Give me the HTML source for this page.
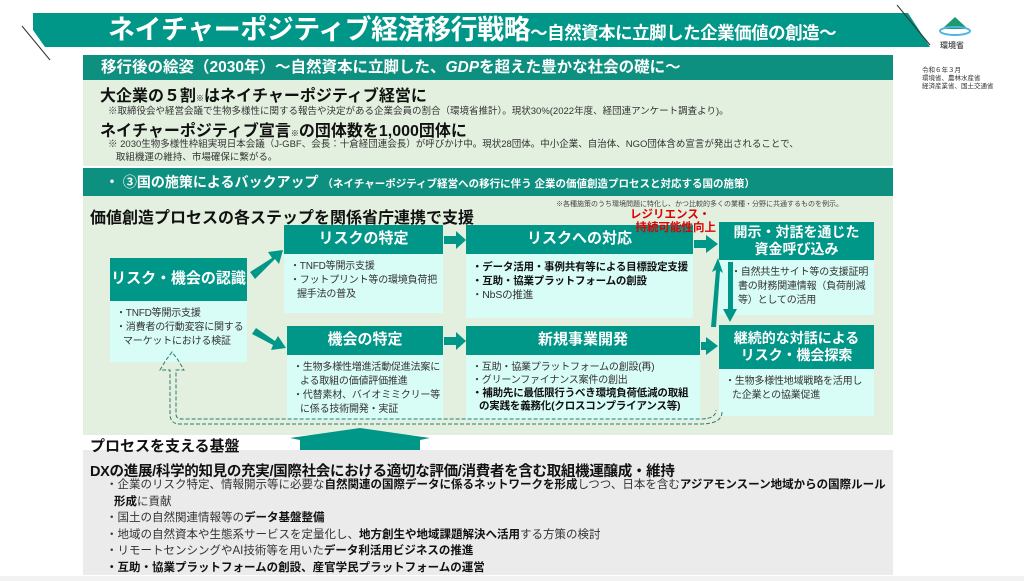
<!DOCTYPE html>
<html><head><meta charset="utf-8"><style>
*{margin:0;padding:0;box-sizing:border-box}
body{width:1024px;height:581px;position:relative;background:#fff;font-family:"Liberation Sans","Noto Sans CJK JP",sans-serif;overflow:hidden;color:#222}
.a{position:absolute}
.hd{position:absolute;background:#009688;color:#fff;font-weight:bold;text-align:center;display:flex;align-items:center;justify-content:center;line-height:1.25}
.bd{position:absolute;background:#d8fcf6;font-size:10px;line-height:14px;padding:6px 3px 0 6px;color:#333;letter-spacing:-0.2px}
.bd p{padding-left:7px;text-indent:-7px}
b{font-weight:bold;color:#111}
</style></head><body>
<svg class="a" style="left:0;top:0" width="1024" height="581">
<polygon points="33,13 908,13 930,47 45,47 33,30" fill="#009688"/>
<line x1="22" y1="26" x2="50" y2="60" stroke="#333" stroke-width="1"/>
<line x1="897" y1="5" x2="930" y2="45" stroke="#333" stroke-width="1"/>
<polygon points="955,17 968,29 942,29" fill="#1a9a6e"/>
<ellipse cx="955" cy="31" rx="15" ry="4" fill="none" stroke="#4fb3e0" stroke-width="2"/>
</svg>
<div class="a" style="left:108px;top:12px;height:36px;line-height:36px;color:#fff;font-weight:bold;font-size:27px;white-space:nowrap;letter-spacing:-0.5px">ネイチャーポジティブ経済移行戦略<span style="font-size:17.5px">～自然資本に立脚した企業価値の創造～</span></div>
<div class="a" style="left:940px;top:40px;font-size:8px;font-weight:bold;color:#555">環境省</div>
<div class="a" style="left:922px;top:67px;font-size:6.5px;line-height:8px;color:#333">令和６年３月<br>環境省、農林水産省<br>経済産業省、国土交通省</div>

<div class="a" style="left:83px;top:55px;width:810px;height:25px;background:#0e9080;color:#fff;font-weight:bold;font-size:15.5px;line-height:25px;padding-left:18px;white-space:nowrap">移行後の絵姿（2030年）～自然資本に立脚した、<i>GDP</i>を超えた豊かな社会の礎に～</div>
<div class="a" style="left:83px;top:80px;width:810px;height:86px;background:#e3f0df"></div>
<div class="a" style="left:100px;top:82px;font-size:16px;font-weight:bold;color:#111;white-space:nowrap">大企業の５割<span style="font-size:8px">※</span>はネイチャーポジティブ経営に</div>
<div class="a" style="left:108px;top:103px;font-size:9.5px;color:#333;white-space:nowrap">※取締役会や経営会議で生物多様性に関する報告や決定がある企業会員の割合（環境省推計）。現状30%(2022年度、経団連アンケート調査より)。</div>
<div class="a" style="left:100px;top:117px;font-size:16px;font-weight:bold;color:#111;white-space:nowrap">ネイチャーポジティブ宣言<span style="font-size:8px">※</span>の団体数を1,000団体に</div>
<div class="a" style="left:108px;top:138px;font-size:9.5px;line-height:13px;color:#333;white-space:nowrap">※ 2030生物多様性枠組実現日本会議（J-GBF、会長：十倉経団連会長）が呼びかけ中。現状28団体。中小企業、自治体、NGO団体含め宣言が発出されることで、<br>&nbsp;&nbsp;&nbsp;取組機運の維持、市場確保に繋がる。</div>

<div class="a" style="left:83px;top:168px;width:810px;height:28px;background:#0e9080;color:#fff;font-weight:bold;font-size:14px;line-height:28px;padding-left:22px;white-space:nowrap">・ ③国の施策によるバックアップ <span style="font-size:10.5px">（ネイチャーポジティブ経営への移行に伴う 企業の価値創造プロセスと対応する国の施策）</span></div>
<div class="a" style="left:83px;top:196px;width:810px;height:239px;background:#e3f0df"></div>
<div class="a" style="left:90px;top:204px;font-size:16px;font-weight:bold;color:#111;white-space:nowrap">価値創造プロセスの各ステップを関係省庁連携で支援</div>
<div class="a" style="left:556px;top:199px;font-size:7px;color:#444;white-space:nowrap">※各種施策のうち環境問題に特化し、かつ比較的多くの業種・分野に共通するものを例示。</div>

<div class="hd" style="left:110px;top:258px;width:137px;height:43px;font-size:15px">リスク・機会の認識</div>
<div class="bd" style="left:110px;top:301px;width:137px;height:61px"><p>・TNFD等開示支援</p><p>・消費者の行動変容に関するマーケットにおける検証</p></div>

<div class="hd" style="left:284px;top:225px;width:159px;height:29px;font-size:15px">リスクの特定</div>
<div class="bd" style="left:284px;top:254px;width:159px;height:59px"><p>・TNFD等開示支援</p><p>・フットプリント等の環境負荷把握手法の普及</p></div>

<div class="hd" style="left:287px;top:326px;width:156px;height:29px;font-size:15px">機会の特定</div>
<div class="bd" style="left:287px;top:355px;width:156px;height:65px"><p>・生物多様性増進活動促進法案による取組の価値評価推進</p><p>・代替素材、バイオミミクリー等に係る技術開発・実証</p></div>

<div class="hd" style="left:466px;top:225px;width:227px;height:29px;font-size:15px">リスクへの対応</div>
<div class="bd" style="left:466px;top:254px;width:227px;height:64px;font-size:10.5px;line-height:14px"><p><b>・データ活用・事例共有等による目標設定支援</b></p><p><b>・互助・協業プラットフォームの創設</b></p><p>・NbSの推進</p></div>

<div class="hd" style="left:466px;top:326px;width:234px;height:29px;font-size:15px">新規事業開発</div>
<div class="bd" style="left:466px;top:355px;width:234px;height:65px;line-height:13px"><p>・互助・協業プラットフォームの創設(再)</p><p>・グリーンファイナンス案件の創出</p><p style="font-size:10.5px"><b>・補助先に最低限行うべき環境負荷低減の取組の実践を義務化(クロスコンプライアンス等)</b></p></div>

<div class="hd" style="left:719px;top:222px;width:155px;height:38px;font-size:14px">開示・対話を通じた<br>資金呼び込み</div>
<div class="bd" style="left:719px;top:260px;width:155px;height:55px;padding-left:12px"><p>・自然共生サイト等の支援証明書の財務関連情報（負荷削減等）としての活用</p></div>

<div class="hd" style="left:719px;top:325px;width:155px;height:44px;font-size:14px">継続的な対話による<br>リスク・機会探索</div>
<div class="bd" style="left:719px;top:369px;width:155px;height:47px"><p>・生物多様性地域戦略を活用した企業との協業促進</p></div>

<svg class="a" style="left:0;top:0" width="1024" height="581">
<g fill="#009688">
<polygon points="250,272 272,258 268,252 283,250 279,264 275,259 255,279"/>
<polygon points="252,334 256,328 275,341 278,336 286,348 271,350 273,345"/>
<polygon points="444,236 456,236 456,231 466,240 456,249 456,244 444,244"/>
<polygon points="444,337 456,337 456,332 466,341 456,350 456,345 444,345"/>
<polygon points="694,240 706,240 706,235 718,244 706,253 706,248 694,248"/>
<polygon points="701,342 706,342 706,337 718,346 706,355 706,350 701,350"/>
<polygon points="703,327 711,327 716,270 712,272 718,258 723,273 720,271 716,327"/>
<polygon points="728,262 733,262 733,309 737,309 730,322 723,309 728,309"/>
<polygon points="300,452 420,452 420,440 430,438 360,428 290,438 300,440"/>
</g>
<g fill="none" stroke="#2c7a72" stroke-width="1" stroke-dasharray="4,2">
<path d="M722,412 Q722,424 700,424 L180,424 Q170,424 170,414 L170,370 L160,370 L166,360 L172,352 L178,360 L184,370 L176,370 L176,414 Q176,419 182,419 L700,419 Q716,419 716,410"/>
</g>
</svg>
<div class="a" style="left:630px;top:209px;width:86px;font-size:11.5px;line-height:13px;font-weight:bold;color:#e00000;text-align:right;z-index:5;white-space:nowrap">レジリエンス・&nbsp;&nbsp;&nbsp;&nbsp;<br>持続可能性向上</div>

<div class="a" style="left:83px;top:450px;width:810px;height:125px;background:#ebebeb"></div>
<div class="a" style="left:90px;top:435px;font-size:15px;font-weight:bold;color:#111">プロセスを支える基盤</div>
<div class="a" style="left:90px;top:460px;font-size:14.5px;font-weight:bold;color:#111;white-space:nowrap;letter-spacing:-0.3px">DXの進展/科学的知見の充実/国際社会における適切な評価/消費者を含む取組機運醸成・維持</div>
<div class="a" style="left:106px;top:477px;width:780px;font-size:11.5px;line-height:16.5px;color:#333">
<p style="padding-left:8px;text-indent:-8px">・企業のリスク特定、情報開示等に必要な<b>自然関連の国際データに係るネットワークを形成</b>しつつ、日本を含む<b>アジアモンスーン地域からの国際ルール形成</b>に貢献</p>
<p>・国土の自然関連情報等の<b>データ基盤整備</b></p>
<p>・地域の自然資本や生態系サービスを定量化し、<b>地方創生や地域課題解決へ活用</b>する方策の検討</p>
<p>・リモートセンシングやAI技術等を用いた<b>データ利活用ビジネスの推進</b></p>
<p><b>・互助・協業プラットフォームの創設、産官学民プラットフォームの運営</b></p>
</div>
<div class="a" style="left:0;top:576px;width:1024px;height:5px;background:#f2f2f2"></div>
</body></html>
